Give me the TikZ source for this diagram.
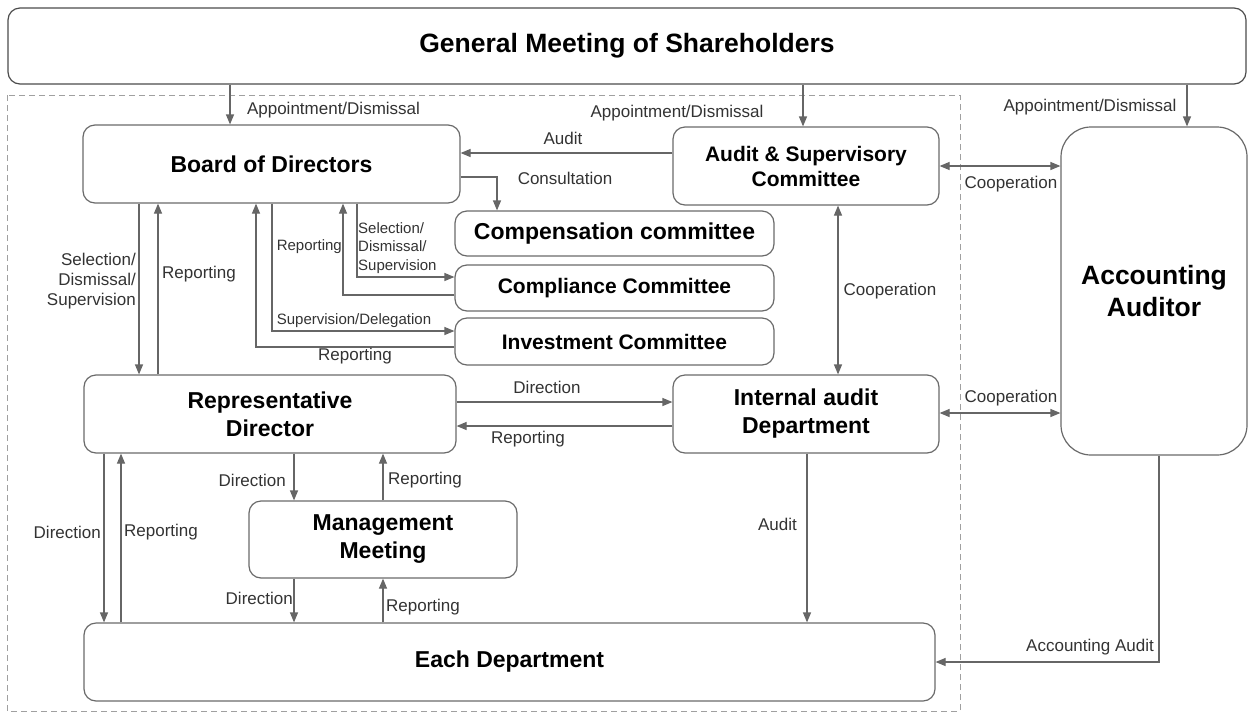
\documentclass[tikz,border=0pt]{standalone}
\usepackage{fontspec}
\setmainfont{Liberation Sans}
\usetikzlibrary{arrows.meta}
\definecolor{lc}{HTML}{666666}
\definecolor{bc}{HTML}{6A6A6A}
\definecolor{tc}{HTML}{333333}
\definecolor{dc}{HTML}{A0A0A0}
\tikzset{
 box/.style={draw=bc, line width=1.2pt, rounded corners=12pt, fill=white, align=center,
   font=\fontsize{23}{28}\selectfont\bfseries, text=black, inner sep=0pt},
 lab/.style={font=\fontsize{17}{20}\selectfont, text=tc, inner sep=0pt},
 slab/.style={font=\fontsize{15}{18.5}\selectfont, text=tc, inner sep=0pt},
 arr/.style={draw=lc, line width=1.2pt, -{Triangle[length=10pt,width=8pt]}},
 darr/.style={draw=lc, line width=1.2pt, {Triangle[length=10pt,width=8pt]}-{Triangle[length=10pt,width=8pt]}},
}
\begin{document}
\begin{tikzpicture}[x=1pt,y=-1pt]
\useasboundingbox (0,0) rectangle (1253,713);
\fill[white] (0,0) rectangle (1253,713);
% dashed frame
\draw[dc, line width=1pt, dash pattern=on 6pt off 4pt] (7,95) rectangle (960,711);
% boxes
\node[box, draw=black!70, minimum width=1238, minimum height=76, font=\fontsize{26.5}{30}\selectfont\bfseries] (gms) at (627,46) {General Meeting of Shareholders};
\node[box, minimum width=377, minimum height=78] (board) at (271.5,164) {Board of Directors};
\node[box, minimum width=266, minimum height=78, font=\fontsize{21}{25}\selectfont\bfseries] (asc) at (806,166) {Audit \& Supervisory\\Committee};
\node[box, rounded corners=30pt, minimum width=186, minimum height=328, font=\fontsize{26.5}{32}\selectfont\bfseries] (aud) at (1154,291) {Accounting\\Auditor};
\node[box, minimum width=319, minimum height=45] (comp) at (614.5,233.5) {Compensation committee};
\node[box, minimum width=319, minimum height=46, font=\fontsize{21}{25}\selectfont\bfseries] (compl) at (614.5,288) {Compliance Committee};
\node[box, minimum width=319, minimum height=47, font=\fontsize{21}{25}\selectfont\bfseries] (inv) at (614.5,341.5) {Investment Committee};
\node[box, minimum width=372, minimum height=78] (rep) at (270,414) {Representative\\Director};
\node[box, minimum width=266, minimum height=78] (iad) at (806,414) {Internal audit\\Department};
\node[box, minimum width=268, minimum height=77] (mgmt) at (383,539.5) {Management\\Meeting};
\node[box, minimum width=851, minimum height=78] (each) at (509.5,662) {Each Department};
% connectors
\draw[arr] (gms.south -| 230,0) -- (board.north -| 230,0);
\draw[arr] (gms.south -| 803,0) -- (asc.north -| 803,0);
\draw[arr] (gms.south -| 1187,0) -- (aud.north -| 1187,0);
\draw[arr] (asc.west |- 0,153) -- (board.east |- 0,153);
\draw[arr] (board.east |- 0,177) -| (comp.north -| 497,0);
\draw[darr] (asc.east |- 0,166) -- (aud.west |- 0,166);
\draw[darr] (asc.south -| 838,0) -- (iad.north -| 838,0);
\draw[darr] (iad.east |- 0,413) -- (aud.west |- 0,413);
\draw[arr] (aud.south -| 1159,0) |- (each.east |- 0,662);
\draw[arr] (iad.south -| 807,0) -- (each.north -| 807,0);
\draw[arr] (rep.east |- 0,402) -- (iad.west |- 0,402);
\draw[arr] (iad.west |- 0,426) -- (rep.east |- 0,426);
\draw[arr] (board.south -| 139,0) -- (rep.north -| 139,0);
\draw[arr] (rep.north -| 158,0) -- (board.south -| 158,0);
\draw[arr] (board.south -| 357,0) |- (compl.west |- 0,277);
\draw[arr] (compl.west |- 0,295) -| (board.south -| 343,0);
\draw[arr] (board.south -| 272,0) |- (inv.west |- 0,331);
\draw[arr] (inv.west |- 0,347) -| (board.south -| 256,0);
\draw[arr] (rep.south -| 294,0) -- (mgmt.north -| 294,0);
\draw[arr] (mgmt.north -| 383,0) -- (rep.south -| 383,0);
\draw[arr] (mgmt.south -| 294,0) -- (each.north -| 294,0);
\draw[arr] (each.north -| 383,0) -- (mgmt.south -| 383,0);
\draw[arr] (rep.south -| 104,0) -- (each.north -| 104,0);
\draw[arr] (each.north -| 121,0) -- (rep.south -| 121,0);
% labels
\node[lab] (l1) at (333.5,110) {Appointment/Dismissal};
\node[lab] (l2) at (677,113) {Appointment/Dismissal};
\node[lab] (l3) at (1090,107) {Appointment/Dismissal};
\node[lab] (l4) at (563,138) {Audit};
\node[lab] (l5) at (565,178) {Consultation};
\node[lab] (l6) at (1011,184) {Cooperation};
\node[lab] (l7) at (890,291) {Cooperation};
\node[lab] (l8) at (1011,398) {Cooperation};
\node[lab, anchor=east, align=right] (l9) at (136,281) {Selection/\\Dismissal/\\Supervision};
\node[lab, anchor=west] (l10) at (162,274) {Reporting};
\node[slab, anchor=east] (l11) at (342,247) {Reporting};
\node[slab, anchor=west, align=left] (l12) at (358,248) {Selection/\\Dismissal/\\Supervision};
\node[slab] (l13) at (354,321) {Supervision/Delegation};
\node[lab] (l14) at (355,356) {Reporting};
\node[lab] (l15) at (547,387) {Direction};
\node[lab] (l16) at (528,439) {Reporting};
\node[lab, anchor=east] (l17) at (101,532) {Direction};
\node[lab, anchor=west] (l18) at (124,532) {Reporting};
\node[lab, anchor=east] (l19) at (286,480) {Direction};
\node[lab, anchor=west] (l20) at (388,480) {Reporting};
\node[lab, anchor=east] (l21) at (293,598) {Direction};
\node[lab, anchor=west] (l22) at (386,607) {Reporting};
\node[lab, anchor=east] (l23) at (797,524) {Audit};
\node[lab] (l24) at (1090,647) {Accounting Audit};
\end{tikzpicture}
\end{document}
